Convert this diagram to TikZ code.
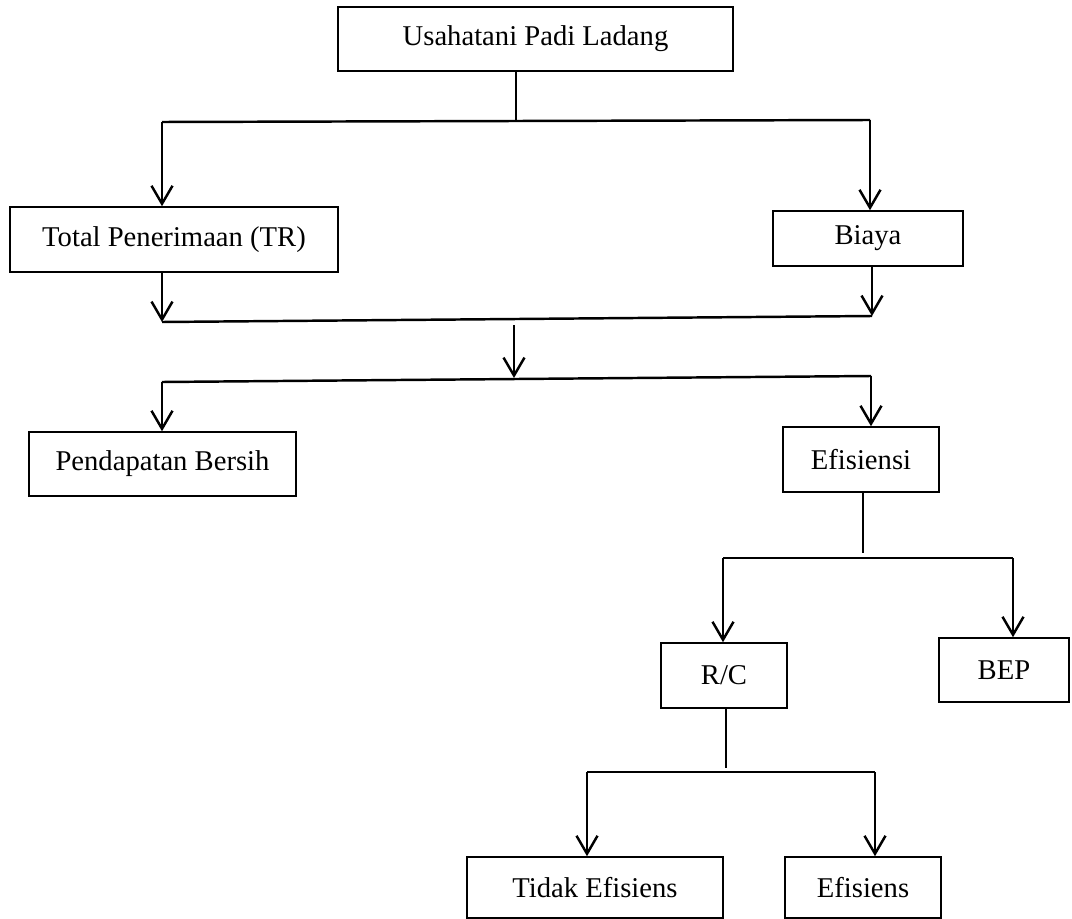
\documentclass[tikz,border=0pt]{standalone}
\usepackage{fontspec}
\setmainfont{Liberation Serif}
\usetikzlibrary{arrows.meta}

\begin{document}
\begin{tikzpicture}[
  x=0.02cm,
  y=-0.02cm,
  every node/.style={font=\fontsize{16.3}{19}\selectfont},
  box/.style={draw, line width=0.9pt, rectangle, inner sep=0pt},
  link/.style={line width=1.4pt},
  down/.style={line width=1.4pt, -{Straight Barb[length=0.36cm, width=0.42cm, line width=1.4pt]}}
]
  % ---- page frame --------------------------------------------------------
  \useasboundingbox (0,0) rectangle (1072,919);

  % ---- boxes -------------------------------------------------------------
  \node[box, minimum width=7.90cm, minimum height=1.28cm] (usaha) at (535.5,39) {Usahatani Padi Ladang};
  \node[box, minimum width=6.56cm, minimum height=1.30cm] (tr) at (174,239.5) {Total Penerimaan (TR)};
  \node[box, minimum width=3.80cm, minimum height=1.10cm] (biaya) at (868,238.5) {Biaya};
  \node[box, minimum width=5.34cm, minimum height=1.28cm] (bersih) at (162.5,464) {Pendapatan Bersih};
  \node[box, minimum width=3.12cm, minimum height=1.30cm] (efisiensi) at (861,459.5) {Efisiensi};
  \node[box, minimum width=2.52cm, minimum height=1.30cm] (rc) at (724,675.5) {R/C};
  \node[box, minimum width=2.60cm, minimum height=1.28cm] (bep) at (1004,670) {BEP};
  \node[box, minimum width=5.12cm, minimum height=1.22cm] (tidak) at (595,887.5) {Tidak Efisiens};
  \node[box, minimum width=3.12cm, minimum height=1.22cm] (efisiens) at (863,887.5) {Efisiens};

  % ---- junction points ---------------------------------------------------
  \coordinate (j1) at (516,121);
  \coordinate (b1l) at (162,122);
  \coordinate (b1r) at (870,120);
  \coordinate (b2l) at (162,322);
  \coordinate (b2r) at (872,316);
  \coordinate (m1) at (514,325);
  \coordinate (m2) at (514,378);
  \coordinate (b3l) at (162,382);
  \coordinate (b3r) at (871,376);
  \coordinate (j4) at (863,553);
  \coordinate (b4l) at (723,558);
  \coordinate (b4r) at (1013,558);
  \coordinate (j5) at (726,768);
  \coordinate (b5l) at (587,772);
  \coordinate (b5r) at (875,772);

  % ---- first split -------------------------------------------------------
  \draw[link] (usaha.south -| j1) -- (j1);
  \draw[link] (b1l) -- (b1r);
  \draw[down] (b1l) -- (tr.north -| b1l);
  \draw[down] (b1r) -- (biaya.north -| b1r);

  % ---- merge and second split --------------------------------------------
  \draw[down] (tr.south -| b2l) -- (b2l);
  \draw[down] (biaya.south -| b2r) -- (b2r);
  \draw[link] (b2l) -- (b2r);
  \draw[down] (m1) -- (m2);
  \draw[link] (b3l) -- (b3r);
  \draw[down] (b3l) -- (bersih.north -| b3l);
  \draw[down] (b3r) -- (efisiensi.north -| b3r);

  % ---- efficiency ---------------------------------------------------------
  \draw[link] (efisiensi.south -| j4) -- (j4);
  \draw[link] (b4l) -- (b4r);
  \draw[down] (b4l) -- (rc.north -| b4l);
  \draw[down] (b4r) -- (bep.north -| b4r);

  % ---- R/C ----------------------------------------------------------------
  \draw[link] (rc.south -| j5) -- (j5);
  \draw[link] (b5l) -- (b5r);
  \draw[down] (b5l) -- (tidak.north -| b5l);
  \draw[down] (b5r) -- (efisiens.north -| b5r);
\end{tikzpicture}
\end{document}
